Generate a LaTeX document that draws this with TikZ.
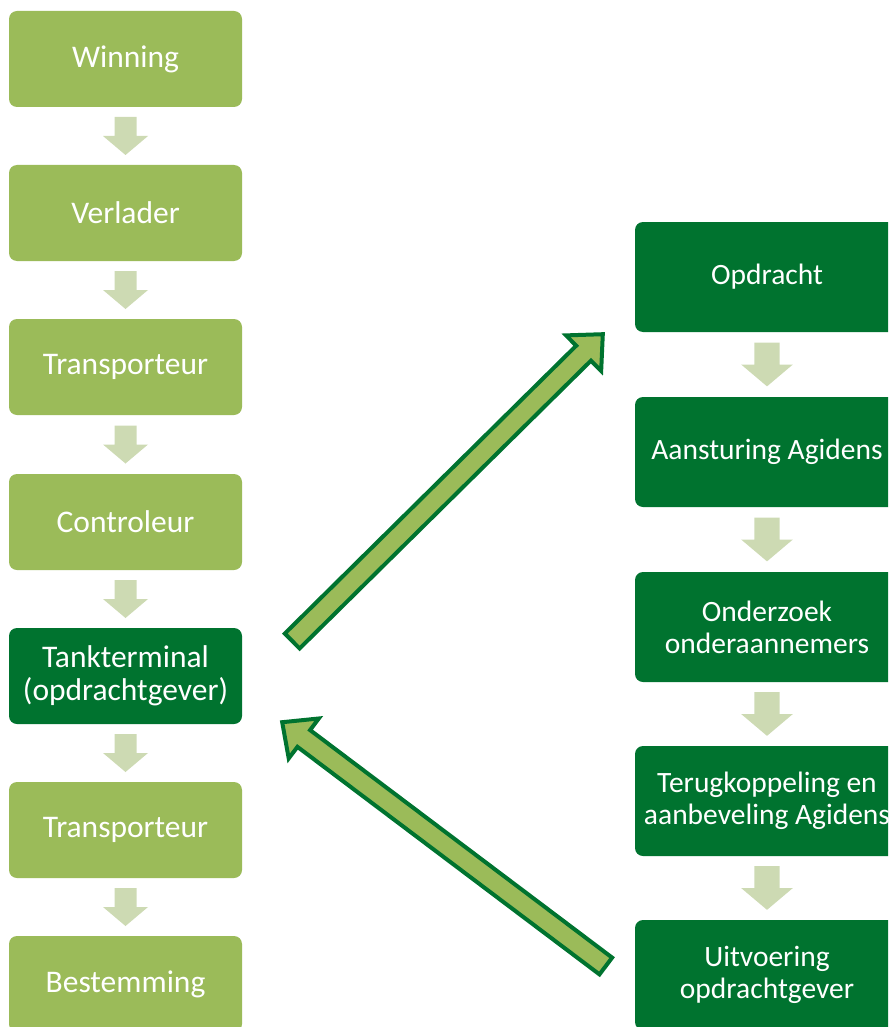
\documentclass[tikz,border=0pt]{standalone}
\usepackage{fontspec}
\setmainfont{Carlito}
\usepackage{tikz}
\usetikzlibrary{calc}
\definecolor{lightgreen}{HTML}{9BBB59}
\definecolor{darkgreen}{HTML}{00732F}
\definecolor{palegreen}{HTML}{CDDAB3}

\tikzset{
    stepbox/.style={rounded corners=8pt, fill=lightgreen, text=white, minimum width=233pt, minimum height=96pt, align=center, inner sep=0pt, font=\fontsize{31.5}{33}\selectfont},
    darkbox/.style={stepbox, fill=darkgreen, minimum width=264pt, minimum height=110pt, font=\fontsize{29.5}{32}\selectfont},
    downarr/.pic={\fill[palegreen] (-11pt,19pt) -- (-11pt,0pt) -- (-22.5pt,0pt) -- (0pt,-19pt) -- (22.5pt,0pt) -- (11pt,0pt) -- (11pt,19pt) -- cycle;},
    fatarr/.style={fill=lightgreen, draw=darkgreen, line width=4pt, line join=miter}
}

\newcommand{\fatarrow}[2]{%
    \coordinate (#1-b) at ($(#2)!27pt!(#1)$);
    \draw[fatarr] ($(#1)!10.5pt!90:(#2)$) -- ($(#1-b)!10.5pt!90:(#2)$) -- ($(#1-b)!25pt!90:(#2)$) -- (#2) -- ($(#1-b)!25pt!-90:(#2)$) -- ($(#1-b)!10.5pt!-90:(#2)$) -- ($(#1)!10.5pt!-90:(#2)$) -- cycle;
}

\begin{document}
\begin{tikzpicture}
    \useasboundingbox (0,0) rectangle (888pt,-1027pt);
    \clip (0,0) rectangle (888pt,-1027pt);
    \node[stepbox] (win) at (125.5pt,-59pt) {Winning};
    \node[stepbox] (verl) at (125.5pt,-213pt) {Verlader};
    \node[stepbox] (transA) at (125.5pt,-367pt) {Transporteur};
    \node[stepbox] (contr) at (125.5pt,-522pt) {Controleur};
    \node[stepbox, fill=darkgreen] (tank) at (125.5pt,-676pt) {Tankterminal\\(opdrachtgever)};
    \node[stepbox] (transB) at (125.5pt,-830pt) {Transporteur};
    \node[stepbox] (best) at (125.5pt,-984pt) {Bestemming};
    \pic at ($(win.south)!0.5!(verl.north)$) {downarr};
    \pic at ($(verl.south)!0.5!(transA.north)$) {downarr};
    \pic at ($(transA.south)!0.5!(contr.north)$) {downarr};
    \pic at ($(contr.south)!0.5!(tank.north)$) {downarr};
    \pic at ($(tank.south)!0.5!(transB.north)$) {downarr};
    \pic at ($(transB.south)!0.5!(best.north)$) {downarr};
    \node[darkbox] (opdr) at (767pt,-277pt) {Opdracht};
    \node[darkbox] (aanst) at (767pt,-452pt) {Aansturing Agidens};
    \node[darkbox] (onderz) at (767pt,-627pt) {Onderzoek\\onderaannemers};
    \node[darkbox] (terug) at (767pt,-801pt) {Terugkoppeling en\\aanbeveling Agidens};
    \node[darkbox] (uitv) at (767pt,-975pt) {Uitvoering\\opdrachtgever};
    \pic[scale=1.15] at ($(opdr.south)!0.5!(aanst.north)$) {downarr};
    \pic[scale=1.15] at ($(aanst.south)!0.5!(onderz.north)$) {downarr};
    \pic[scale=1.15] at ($(onderz.south)!0.5!(terug.north)$) {downarr};
    \pic[scale=1.15] at ($(terug.south)!0.5!(uitv.north)$) {downarr};
    \coordinate (up-tail) at ([shift={(50pt,35pt)}]tank.east);
    \coordinate (up-tip) at ([shift={(-32pt,-2pt)}]opdr.south west);
    \coordinate (back-tail) at ([shift={(-29pt,9pt)}]uitv.west);
    \coordinate (back-tip) at ([shift={(40pt,2pt)}]tank.south east);
    \fatarrow{up-tail}{up-tip}
    \fatarrow{back-tail}{back-tip}
\end{tikzpicture}
\end{document}
